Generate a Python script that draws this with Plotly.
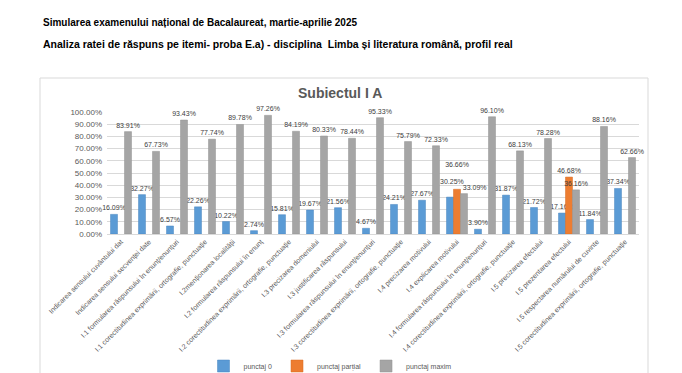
import plotly.graph_objects as go

categories = [
    "Indicarea sensului cuvântului dat",
    "Indicarea sensului secvenței date",
    "I.1 formularea răspunsului în enunț/enunțuri",
    "I.1 corectitudinea exprimării, ortografie, punctuație",
    "I.2menționarea localității",
    "I.2 formularea răspunsului în enunț",
    "I.2 corectitudinea exprimării, ortografie, punctuație",
    "I.3 precizarea domeniului",
    "I.3 justificarea răspunsului",
    "I.3 formularea răspunsului în enunț/enunțuri",
    "I.3 corectitudinea exprimării, ortografie, punctuație",
    "I.4 precizarea motivului",
    "I.4 explicarea motivului",
    "I.4 formularea răspunsului în enunț/enunțuri",
    "I.4 corectitudinea exprimării, ortografie, punctuație",
    "I.5 precizarea efectului",
    "I.5 prezentarea efectului",
    "I.5 respectarea numărului de cuvinte",
    "I.5 corectitudinea exprimării, ortografie, punctuație",
]
punctaj_0 = [0.1609, 0.3227, 0.0657, 0.2226, 0.1022, 0.0274, 0.1581, 0.1967, 0.2156,
             0.0467, 0.2421, 0.2767, 0.3025, 0.0390, 0.3187, 0.2172, 0.1716, 0.1184, 0.3734]
punctaj_partial = [None, None, None, None, None, None, None, None, None,
                   None, None, None, 0.3666, None, None, None, 0.4668, None, None]
punctaj_maxim = [0.8391, 0.6773, 0.9343, 0.7774, 0.8978, 0.9726, 0.8419, 0.8033, 0.7844,
                 0.9533, 0.7579, 0.7233, 0.3309, 0.9610, 0.6813, 0.7828, 0.3616, 0.8816, 0.6266]
series_names = ["punctaj 0", "punctaj parțial", "punctaj maxim"]
y_ticks = [0.0, 0.1, 0.2, 0.3, 0.4, 0.5, 0.6, 0.7, 0.8, 0.9, 1.0]

OFF = 8  # default page body margin
W, H = 682 - OFF, 373 - OFF
L, R, T, B = 107 - OFF, 639 - OFF, 112 - OFF, 234 - OFF


def px_x(p):
    return (p - OFF - L) / (R - L)


def px_y(p):
    return (B - (p - OFF)) / (B - T)


FONT = "Liberation Sans, Arial, sans-serif"

# data-label templates (the crowded group "I.4 explicarea motivului" is spread out, as in the original)
FMT = "%{y:.2%}"
NB = "\u00a0"
crowded = categories.index("I.4 explicarea motivului")
tpl_blue = [FMT] * len(categories)
tpl_blue[crowded] = NB * 2 + FMT + "<br>" + NB
tpl_orange = [FMT] * len(categories)
tpl_orange[crowded] = FMT + "<br>" + NB + "<br>" + NB
tpl_gray = [FMT] * len(categories)
tpl_gray[crowded] = NB * 11 + FMT

fig = go.Figure()
colors = ["#5B9BD5", "#ED7D31", "#A5A5A5"]
lines = ["#4A86C0", "#D96B20", "#929292"]
for name, vals, c, lc, tpl in zip(series_names, [punctaj_0, punctaj_partial, punctaj_maxim],
                                   colors, lines, [tpl_blue, tpl_orange, tpl_gray]):
    fig.add_trace(go.Bar(
        name=name, x=categories, y=vals,
        marker=dict(color=c, line=dict(color=lc, width=0.5)),
        texttemplate=tpl, textposition="outside", cliponaxis=False,
        constraintext="none",
        textfont=dict(size=7, color="#404040", family=FONT),
        outsidetextfont=dict(size=7, color="#404040", family=FONT),
    ))

fig.update_layout(
    width=W, height=H,
    margin=dict(l=L, r=W - R, t=T, b=H - B, pad=0, autoexpand=False),
    paper_bgcolor="white", plot_bgcolor="white",
    barmode="group", bargap=0.25, bargroupgap=0,
    font=dict(family=FONT, color="#595959"),
    showlegend=True,
    legend=dict(orientation="h", x=px_x(330), xanchor="center", y=px_y(366), yanchor="middle",
                font=dict(size=7, color="#595959"), bgcolor="rgba(0,0,0,0)",
                itemwidth=30, tracegroupgap=0),
    xaxis=dict(tickangle=-45, tickfont=dict(size=7, color="#595959"), showgrid=False,
               showline=True, linecolor="#D9D9D9", ticks="", automargin=False),
    yaxis=dict(range=[0, 1.0], tickvals=y_ticks, tickformat=".2%",
               tickfont=dict(size=8, color="#595959"), gridcolor="#D9D9D9", gridwidth=1,
               zeroline=False, showline=False, ticks="", automargin=False,
               ticklabelstandoff=4),
)

fig.add_shape(type="rect", xref="paper", yref="paper",
              x0=px_x(40), x1=px_x(648), y0=px_y(390), y1=px_y(78),
              line=dict(color="#D9D9D9", width=1), fillcolor="rgba(0,0,0,0)", layer="below")

fig.add_annotation(text="<b>Simularea examenului național de Bacalaureat, martie-aprilie 2025</b>",
                   xref="paper", yref="paper", x=px_x(41), y=px_y(22), xanchor="left", yanchor="middle",
                   showarrow=False, font=dict(size=10, color="#000000", family=FONT))
fig.add_annotation(text="<b>Analiza ratei de răspuns pe itemi- proba E.a) - disciplina  Limba și literatura română, profil real</b>",
                   xref="paper", yref="paper", x=px_x(41), y=px_y(44), xanchor="left", yanchor="middle",
                   showarrow=False, font=dict(size=10.5, color="#000000", family=FONT))
fig.add_annotation(text="<b>Subiectul I A</b>",
                   xref="paper", yref="paper", x=px_x(340), y=px_y(93), xanchor="center", yanchor="middle",
                   showarrow=False, font=dict(size=14, color="#595959", family=FONT))

fig.write_html("out.html")
